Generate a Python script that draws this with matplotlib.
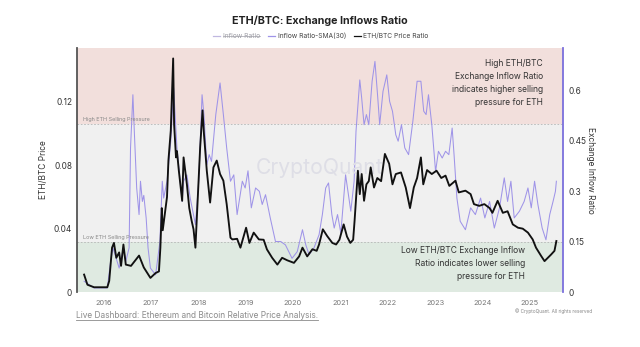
import matplotlib
matplotlib.use("Agg")
import matplotlib.pyplot as plt
from matplotlib.lines import Line2D

plt.rcParams['font.family'] = ['Inter', 'DejaVu Sans']

# ---------------- data (fractional years) ----------------
price_t = [2015.59, 2015.66, 2015.80, 2016.08, 2016.12, 2016.18, 2016.22, 2016.27, 2016.33, 2016.37,
           2016.42, 2016.47, 2016.58, 2016.75, 2016.85, 2016.99, 2017.10, 2017.17, 2017.20, 2017.23,
           2017.25, 2017.34, 2017.37, 2017.42, 2017.47, 2017.49, 2017.53, 2017.55, 2017.59, 2017.66,
           2017.69, 2017.76, 2017.81, 2017.86, 2017.90, 2017.94, 2017.99, 2018.04, 2018.09, 2018.12,
           2018.18, 2018.25, 2018.32, 2018.39, 2018.46, 2018.53, 2018.60, 2018.68, 2018.72, 2018.82,
           2018.89, 2019.01, 2019.08, 2019.17, 2019.28, 2019.38, 2019.45, 2019.56, 2019.67, 2019.77,
           2019.88, 2020.02, 2020.13, 2020.20, 2020.30, 2020.41, 2020.50, 2020.55, 2020.63, 2020.72,
           2020.83, 2020.91, 2020.98, 2021.07, 2021.14, 2021.21, 2021.27, 2021.30, 2021.37, 2021.41,
           2021.45, 2021.50, 2021.55, 2021.60, 2021.64, 2021.71, 2021.78, 2021.86, 2021.94, 2022.03,
           2022.10, 2022.17, 2022.28, 2022.38, 2022.47, 2022.55, 2022.62, 2022.70, 2022.75, 2022.83,
           2022.93, 2023.03, 2023.13, 2023.22, 2023.30, 2023.43, 2023.50, 2023.64, 2023.75, 2023.82,
           2023.93, 2024.04, 2024.15, 2024.21, 2024.32, 2024.43, 2024.53, 2024.64, 2024.75, 2024.85,
           2024.96, 2025.06, 2025.13, 2025.24, 2025.31, 2025.38, 2025.45, 2025.52, 2025.56]
price_v = [0.011, 0.0046, 0.003, 0.003, 0.007, 0.028, 0.031, 0.0216, 0.025, 0.0165,
           0.030, 0.0173, 0.0165, 0.023, 0.0155, 0.0089, 0.012, 0.013, 0.028, 0.053,
           0.039, 0.060, 0.083, 0.102, 0.1475, 0.106, 0.085, 0.089, 0.0766, 0.0576,
           0.085, 0.068, 0.053, 0.045, 0.0396, 0.028, 0.060, 0.0914, 0.1147, 0.0999,
           0.0766, 0.0565, 0.0787, 0.083, 0.0745, 0.0703, 0.0555, 0.0343, 0.0332, 0.0336,
           0.028, 0.0406, 0.031, 0.0375, 0.0332, 0.033, 0.0269, 0.0216, 0.0173, 0.0216,
           0.020, 0.0184, 0.0225, 0.028, 0.0225, 0.027, 0.026, 0.030, 0.0396, 0.0354,
           0.031, 0.030, 0.033, 0.0427, 0.035, 0.031, 0.033, 0.045, 0.0766, 0.0618,
           0.0745, 0.0576, 0.068, 0.070, 0.0787, 0.066, 0.072, 0.070, 0.0872, 0.081,
           0.068, 0.0745, 0.0755, 0.066, 0.053, 0.066, 0.072, 0.085, 0.068, 0.077,
           0.0745, 0.0766, 0.072, 0.0735, 0.067, 0.0703, 0.0629, 0.064, 0.0618, 0.0555,
           0.0544, 0.0555, 0.053, 0.050, 0.0576, 0.050, 0.051, 0.0427, 0.0406, 0.040,
           0.0375, 0.0332, 0.028, 0.0227, 0.0195, 0.0216, 0.0237, 0.026, 0.0322]

sma_t = [2015.59, 2015.80, 2016.08, 2016.15, 2016.20, 2016.33, 2016.42, 2016.47, 2016.54, 2016.57,
         2016.62, 2016.65, 2016.70, 2016.75, 2016.78, 2016.82, 2016.85, 2016.90, 2016.94, 2016.99,
         2017.10, 2017.19, 2017.24, 2017.27, 2017.34, 2017.42, 2017.48, 2017.50, 2017.53, 2017.55,
         2017.66, 2017.69, 2017.76, 2017.83, 2017.94, 2018.01, 2018.08, 2018.12, 2018.18, 2018.23,
         2018.28, 2018.37, 2018.46, 2018.53, 2018.60, 2018.68, 2018.75, 2018.82, 2018.93, 2018.99,
         2019.05, 2019.12, 2019.21, 2019.29, 2019.35, 2019.42, 2019.52, 2019.63, 2019.74, 2019.84,
         2019.98, 2020.09, 2020.20, 2020.27, 2020.34, 2020.44, 2020.55, 2020.62, 2020.69, 2020.75,
         2020.82, 2020.87, 2020.94, 2021.01, 2021.11, 2021.16, 2021.22, 2021.29, 2021.33, 2021.41,
         2021.45, 2021.50, 2021.55, 2021.60, 2021.67, 2021.73, 2021.79, 2021.83, 2021.90, 2021.98,
         2022.04, 2022.10, 2022.17, 2022.22, 2022.29, 2022.36, 2022.44, 2022.53, 2022.62, 2022.70,
         2022.76, 2022.81, 2022.86, 2022.93, 2023.01, 2023.07, 2023.15, 2023.22, 2023.29, 2023.36,
         2023.40, 2023.46, 2023.53, 2023.64, 2023.75, 2023.85, 2023.96, 2024.05, 2024.15, 2024.25,
         2024.36, 2024.46, 2024.53, 2024.60, 2024.67, 2024.78, 2024.88, 2024.96, 2025.03, 2025.10,
         2025.17, 2025.26, 2025.34, 2025.42, 2025.49, 2025.54, 2025.56]
sma_v = [0.032, 0.012, 0.012, 0.091, 0.131, 0.071, 0.131, 0.091, 0.131, 0.428,
         0.586, 0.477, 0.309, 0.230, 0.329, 0.269, 0.287, 0.220, 0.131, 0.071,
         0.051, 0.150, 0.329, 0.279, 0.329, 0.448, 0.606, 0.556, 0.477, 0.428,
         0.269, 0.329, 0.348, 0.279, 0.200, 0.329, 0.586, 0.527, 0.378, 0.408,
         0.388, 0.527, 0.621, 0.527, 0.428, 0.329, 0.348, 0.230, 0.329, 0.309,
         0.360, 0.250, 0.309, 0.299, 0.260, 0.289, 0.220, 0.150, 0.150, 0.140,
         0.100, 0.120, 0.185, 0.140, 0.111, 0.130, 0.170, 0.230, 0.309, 0.324,
         0.230, 0.190, 0.230, 0.175, 0.348, 0.299, 0.240, 0.329, 0.477, 0.630,
         0.576, 0.497, 0.527, 0.497, 0.626, 0.685, 0.576, 0.497, 0.596, 0.645,
         0.566, 0.537, 0.467, 0.448, 0.497, 0.428, 0.408, 0.507, 0.626, 0.626,
         0.537, 0.527, 0.586, 0.497, 0.358, 0.418, 0.398, 0.418, 0.408, 0.487,
         0.408, 0.279, 0.210, 0.185, 0.250, 0.230, 0.279, 0.220, 0.269, 0.190,
         0.250, 0.339, 0.269, 0.329, 0.220, 0.240, 0.269, 0.309, 0.250, 0.329,
         0.260, 0.190, 0.155, 0.230, 0.269, 0.299, 0.329]

years = [2016, 2017, 2018, 2019, 2020, 2021, 2022, 2023, 2024, 2025]
left_ticks = [0, 0.04, 0.08, 0.12]
left_labels = ["0", "0.04", "0.08", "0.12"]
right_ticks = [0, 0.15, 0.30, 0.45, 0.60]
right_labels = ["0", "0.15", "0.3", "0.45", "0.6"]
low_thr, high_thr = 0.15, 0.50

# ---------------- figure ----------------
W, H = 640, 347
fig = plt.figure(figsize=(6.4, 3.47), dpi=100)
ax = fig.add_axes([77/W, 1-292/H, (563-77)/W, (292-48)/H])
ax2 = ax.twinx()
ax.set_zorder(ax2.get_zorder() + 1)
ax.patch.set_visible(False)

XMIN, XMAX = 2015.44, 2025.70
R_TOP, L_TOP = 0.7248, 0.1541

# bands (right axis units)
ax2.axhspan(0, low_thr, color='#dfeae1', lw=0, zorder=0)
ax2.axhspan(low_thr, high_thr, color='#f0f0f0', lw=0, zorder=0)
ax2.axhspan(high_thr, R_TOP, color='#f2dfdc', lw=0, zorder=0)
for th in (low_thr, high_thr):
    ax2.axhline(th, color='#b5b5b5', lw=0.6, ls=(0, (2, 2)), zorder=1)

ax2.plot(sma_t, sma_v, color='#9f94e8', lw=0.75, zorder=2)
ax.plot(price_t, price_v, color='#111111', lw=1.35, zorder=3)

ax.set_xlim(XMIN, XMAX)
ax.set_ylim(0, L_TOP)
ax2.set_ylim(0, R_TOP)

ax.set_xticks(years)
ax.set_xticklabels([str(y) for y in years], fontsize=5.3, color='#777777')
ax.set_yticks(left_ticks)
ax.set_yticklabels(left_labels, fontsize=6, color='#333333')
ax2.set_yticks(right_ticks)
ax2.set_yticklabels(right_labels, fontsize=6, color='#333333')
ax.tick_params(axis='x', length=0, pad=6)
ax.tick_params(axis='y', length=0, pad=3.5)
ax2.tick_params(axis='y', length=0, pad=4)

for a in (ax, ax2):
    for s in ('top', 'bottom'):
        a.spines[s].set_visible(False)
ax.spines['right'].set_visible(False)
ax2.spines['left'].set_visible(False)
ax.spines['left'].set_color('#555555')
ax.spines['left'].set_linewidth(1.3)
ax2.spines['right'].set_color('#7b70dc')
ax2.spines['right'].set_linewidth(1.3)

ax.set_ylabel("ETH/BTC Price", fontsize=6, color='#333333', labelpad=4)
ax2.set_ylabel("Exchange Inflow Ratio", fontsize=6, color='#333333', rotation=270, labelpad=6)

# watermark
ax.text(0.5, 0.51, "CryptoQuant", transform=ax.transAxes, fontsize=15.2, color='#dedee6',
        ha='center', va='center', zorder=1)

# band labels
ax2.text(XMIN + 0.12, high_thr + 0.004, "High ETH Selling Pressure", fontsize=3.95, color='#888888',
         ha='left', va='bottom')
ax2.text(XMIN + 0.12, low_thr + 0.004, "Low ETH Selling Pressure", fontsize=3.95, color='#888888',
         ha='left', va='bottom')

# annotations
fig.text(543/W, 1-59/H, "High ETH/BTC\nExchange Inflow Ratio\nindicates higher selling\npressure for ETH",
         ha='right', va='top', fontsize=6.1, color='#333333', linespacing=1.55, zorder=5)
fig.text(525/W, 1-246/H, "Low ETH/BTC Exchange Inflow\nRatio indicates lower selling\npressure for ETH",
         ha='right', va='top', fontsize=6.1, color='#333333', linespacing=1.55, zorder=5)

# title
fig.text(0.5, 1-20.5/H, "ETH/BTC: Exchange Inflows Ratio", ha='center', va='center',
         fontsize=7.7, fontweight='bold', color='#222222')

# legend (manual)
ly = 1-36/H
items = [(213, 223, "Inflow Ratio", '#c0b8e0', '#a0a0a8', True),
         (268, 278, "Inflow Ratio-SMA(30)", '#9f94e8', '#444444', False),
         (354, 363, "ETH/BTC Price Ratio", '#111111', '#444444', False)]
for x0, x1, lab, lc, tc, strike in items:
    fig.add_artist(Line2D([x0/W, (x0+7)/W], [ly, ly], color=lc, lw=0.9))
    t = fig.text(x1/W, ly, lab, ha='left', va='center', fontsize=4.8, color=tc)
    if strike:
        fig.canvas.draw()
        bb = t.get_window_extent()
        fig.add_artist(Line2D([bb.x0/W, bb.x1/W], [ly, ly], color='#a0a0a8', lw=0.5))

# bottom link
lt = fig.text(76/W, 1-316/H, "Live Dashboard: Ethereum and Bitcoin Relative Price Analysis.",
              ha='left', va='center', fontsize=6.0, color='#8a8a8a')
fig.canvas.draw()
bb = lt.get_window_extent()
fig.add_artist(Line2D([bb.x0/W, bb.x1/W], [bb.y0/H + 0.002, bb.y0/H + 0.002], color='#8a8a8a', lw=0.6))

fig.text(592/W, 1-311/H, "© CryptoQuant. All rights reserved", ha='right', va='center',
         fontsize=3.4, color='#888888')

fig.savefig("out.png", dpi=100)
